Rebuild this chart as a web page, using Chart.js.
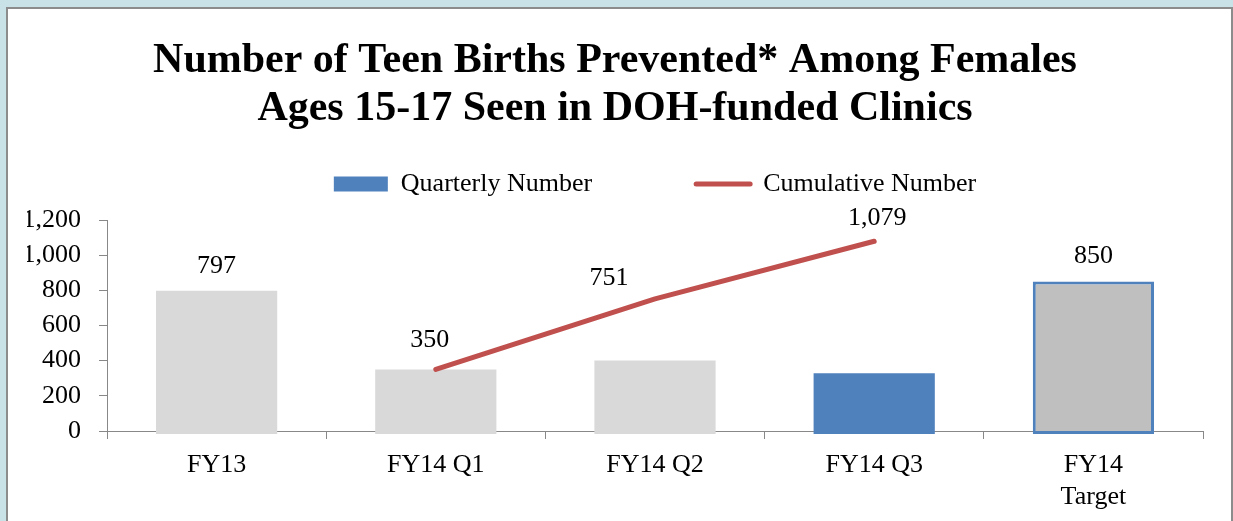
<!DOCTYPE html>
<html>
<head>
<meta charset="utf-8">
<script src="https://cdn.jsdelivr.net/npm/chart.js@4.4.0/dist/chart.umd.min.js"></script>
<style>
  html, body { margin: 0; padding: 0; background: #c9e2e8; overflow: hidden; }
  #panel { position: absolute; left: 6px; top: 7px; width: 1223px; height: 530px; border: 2px solid #8c8c8c; background: #fff; }
  #grafica { display: block; }
</style>
</head>
<body>
<div id="panel"><canvas id="grafica" width="1223" height="512"></canvas></div>
<script>
// datos
const titleLines = ['Number of Teen Births Prevented* Among Females', 'Ages 15-17 Seen in DOH-funded Clinics'];
const categories = ['FY13', 'FY14 Q1', 'FY14 Q2', 'FY14 Q3', ['FY14', 'Target']];
const quarterly = [797, 350, 401, 328, 850];
const cumulative = [null, 350, 751, 1079, null];
const barLabelShown = [true, false, false, false, true];

// estilos
const serif = "'Liberation Serif', 'Times New Roman', serif";
const barColors = ['#d9d9d9', '#d9d9d9', '#d9d9d9', '#4f81bd', '#bfbfbf'];
const barBorderColors = ['#d9d9d9', '#d9d9d9', '#d9d9d9', '#4f81bd', '#4f81bd'];
const barBorderWidths = [0, 0, 0, 0, 3];
const lineLabelOffset = [null, [-6, -29], [-46, -21], [3, -23]];

const fmt = v => Number(v).toLocaleString('en-US');

// etiquetas de valores sobre barras y linea
const valueLabels = {
    id: 'valueLabels',
    afterDatasetsDraw(chart) {
        const ctx = chart.ctx;
        ctx.save();
        ctx.font = '26px ' + serif;
        ctx.fillStyle = '#000';
        ctx.textAlign = 'center';
        ctx.textBaseline = 'middle';
        chart.getDatasetMeta(0).data.forEach((bar, i) => {
            if (!barLabelShown[i]) return;
            ctx.fillText(fmt(quarterly[i]), bar.x, bar.y - 25);
        });
        chart.getDatasetMeta(1).data.forEach((pt, i) => {
            if (cumulative[i] === null) return;
            const off = lineLabelOffset[i];
            ctx.fillText(fmt(cumulative[i]), pt.x + off[0], pt.y + off[1]);
        });
        ctx.restore();
    }
};

// la leyenda usa el mismo padding para x e y, se fija su alto a mano
const legendHeight = {
    id: 'legendHeight',
    beforeLayout(chart) {
        const legend = chart.legend;
        if (!legend || legend._fitPatched) return;
        const fit = legend.fit;
        legend.fit = function () { fit.call(this); this.height = 153; };
        legend._fitPatched = true;
    }
};

Chart.defaults.font.family = serif;

const chart = new Chart(document.getElementById('grafica'), {
    data: {
        labels: categories,
        datasets: [
            {
                type: 'bar',
                label: 'Quarterly Number',
                data: quarterly,
                backgroundColor: barColors,
                borderColor: barBorderColors,
                borderWidth: barBorderWidths,
                borderSkipped: false,
                barPercentage: 0.553,
                categoryPercentage: 1,
                base: -17,
                clip: false,
                order: 1
            },
            {
                type: 'line',
                label: 'Cumulative Number',
                data: cumulative,
                borderColor: '#c0504d',
                backgroundColor: '#c0504d',
                borderWidth: 5,
                borderCapStyle: 'round',
                borderJoinStyle: 'round',
                pointRadius: 0,
                pointStyle: 'line',
                tension: 0,
                order: 0
            }
        ]
    },
    options: {
        responsive: false,
        animation: false,
        events: [],
        layout: { padding: { left: 19, right: 28, top: 0, bottom: 0 } },
        plugins: {
            tooltip: { enabled: false },
            title: {
                display: true,
                text: titleLines,
                color: '#000',
                font: { family: serif, size: 42, weight: 'bold', lineHeight: '48px' },
                padding: { top: 28, bottom: -66 }
            },
            legend: {
                position: 'top',
                fullSize: false,
                labels: {
                    usePointStyle: true,
                    pointStyleWidth: 54,
                    boxHeight: 15,
                    padding: 104,
                    color: '#000',
                    font: { family: serif, size: 26 },
                    generateLabels(c) {
                        const items = Chart.defaults.plugins.legend.labels.generateLabels(c);
                        items.sort((a, b) => a.datasetIndex - b.datasetIndex);
                        Object.assign(items[0], { fillStyle: '#4f81bd', strokeStyle: '#4f81bd', lineWidth: 0, pointStyle: 'rect' });
                        Object.assign(items[1], { strokeStyle: '#c0504d', lineWidth: 5, lineCap: 'round', pointStyle: 'line' });
                        return items;
                    }
                }
            }
        },
        scales: {
            x: {
                z: 1,
                grid: { drawOnChartArea: false, color: '#888', tickLength: 8, offset: true },
                border: { color: '#888', width: 1 },
                ticks: { color: '#000', font: { family: serif, size: 26, lineHeight: '32px' }, padding: 10, maxRotation: 0, autoSkip: false },
                afterFit(scale) { scale.height = 90; }
            },
            y: {
                min: 0,
                max: 1200,
                grid: { drawOnChartArea: false, color: '#888', tickLength: 8 },
                border: { color: '#888', width: 1 },
                ticks: { stepSize: 200, color: '#000', font: { family: serif, size: 26 }, padding: 18, callback: v => fmt(v) },
                afterFit(scale) { scale.width = 80; }
            }
        }
    },
    plugins: [valueLabels, legendHeight]
});
</script>
</body>
</html>
